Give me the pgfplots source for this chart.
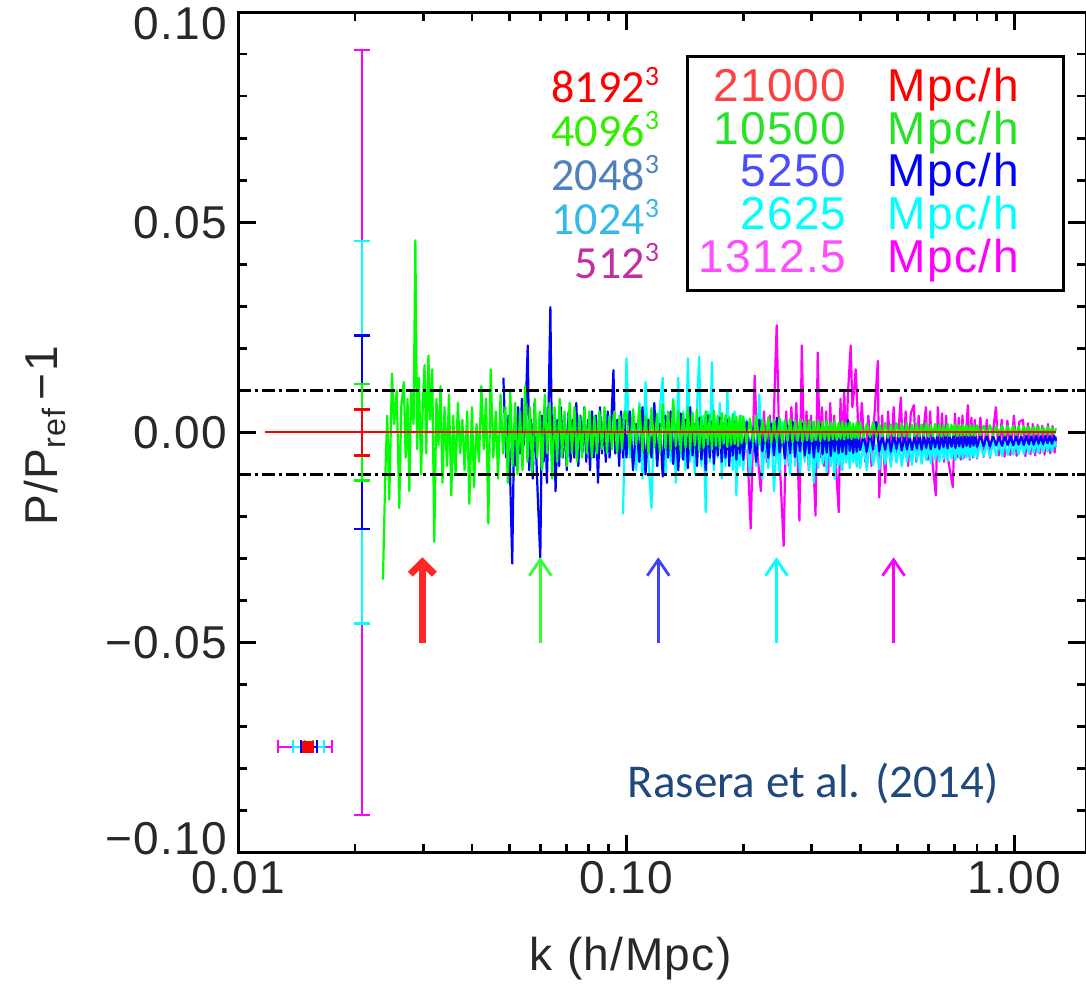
\documentclass[border=0pt]{standalone}
\usepackage{fontspec}
\setmainfont{Liberation Sans}[LetterSpace=3]
\newfontfamily\calibri{Carlito}
\usepackage{pgfplots}
\pgfplotsset{compat=1.18}
\usetikzlibrary{arrows.meta}
\definecolor{idlred}{RGB}{255,0,0}
\definecolor{idlgreen}{RGB}{0,255,0}
\definecolor{idlblue}{RGB}{0,0,255}
\definecolor{idlcyan}{RGB}{0,255,255}
\definecolor{idlmag}{RGB}{255,0,255}
\definecolor{leggreen}{RGB}{40,225,40}
\definecolor{angreen}{RGB}{51,238,0}
\definecolor{anblue}{RGB}{79,129,189}
\definecolor{ancyan}{RGB}{51,187,230}
\definecolor{anmag}{RGB}{192,48,160}
\definecolor{rasera}{RGB}{31,73,125}
\definecolor{labgray}{RGB}{40,40,40}
\newcommand\idlfont{\fontsize{23bp}{27bp}\selectfont}
\newcommand\calfont{\calibri\fontsize{23bp}{21.9bp}\selectfont}
\newcommand\cubed[1]{\raisebox{8.5bp}[0pt][0pt]{\calibri\fontsize{14bp}{14bp}\selectfont #1}}
\pgfplotsset{
  vbar/.style={line width=1.3bp, mark=none},
  vcap/.style={only marks, mark=-, mark size=4bp, mark options={line width=1.3bp}},
  hcap/.style={only marks, mark=|, mark size=3.3bp, mark options={line width=1.3bp}},
}
\begin{document}
\begin{tikzpicture}
\begin{axis}[
  scale only axis, width=423.5bp, height=420bp,
  xmode=log, xmin=0.01, xmax=1.527, ymin=-0.1, ymax=0.1,
  xtick={0.01,0.1,1}, xticklabels={0.01,0.10,1.00},
  minor xtick={0.02,0.03,0.04,0.05,0.06,0.07,0.08,0.09,0.2,0.3,0.4,0.5,0.6,0.7,0.8,0.9},
  ytick={-0.1,-0.05,0,0.05,0.1},
  yticklabels={\raisebox{7bp}[\height][\depth]{−0.10},−0.05,0.00,0.05,\raisebox{-6bp}[\height][\depth]{0.10}},
  minor ytick={-0.09,-0.08,-0.07,-0.06,-0.04,-0.03,-0.02,-0.01,0.01,0.02,0.03,0.04,0.06,0.07,0.08,0.09},
  major tick length=9bp, minor tick length=4.5bp,
  every tick/.style={black, line width=1.4bp},
  axis line style={line width=1.5bp},
  tick label style={font=\idlfont, text=labgray},
  xticklabel style={yshift=-1bp},
  yticklabel style={xshift=-2bp},
  xlabel={k (h/Mpc)},
  xlabel style={font=\idlfont, text=labgray, at={(rel axis cs:0.463,-0.126)}, anchor=center},
  ylabel={P/P\textsubscript{ref}\,−1},
  ylabel style={font=\idlfont, text=labgray, at={(rel axis cs:-0.228,0.496)}, anchor=center, rotate=0},
  every axis plot/.append style={line join=round},
]
% 1312.5 Mpc/h (512^3)
\addplot[idlmag, line width=1.1bp, mark=none] coordinates {
(0.205,-0.0040) (0.209,-0.0229) (0.2125,0.0030) (0.214,0.0135) (0.218,-0.0060) (0.222,-0.0140) (0.226,0.0050) (0.230,-0.0070) (0.234,0.0040) (0.238,-0.0050)
(0.2438,0.0255) (0.248,-0.0060) (0.2541,-0.0270) (0.258,0.0050) (0.262,-0.0080) (0.266,0.0060) (0.270,-0.0050) (0.274,0.0070) (0.279,-0.0210) (0.283,0.0207)
(0.287,-0.0060) (0.291,0.0050) (0.295,-0.0090) (0.299,0.0040) (0.303,-0.0070) (0.307,-0.0198) (0.311,0.0190) (0.315,-0.0060) (0.319,0.0060) (0.323,-0.0080)
(0.327,0.0050) (0.331,-0.0100) (0.335,0.0070) (0.339,-0.0060) (0.343,0.0040) (0.347,-0.0090) (0.3524,-0.0190) (0.356,0.0080) (0.360,-0.0050) (0.364,0.0100)
(0.368,-0.0060) (0.372,0.0090) (0.3783,0.0207) (0.382,0.0060) (0.386,0.0100) (0.3897,0.0150) (0.394,0.0050) (0.398,-0.0040) (0.404,0.0070) (0.412,-0.0070)
(0.420,0.0040) (0.428,-0.0080) (0.436,0.0050) (0.4442,0.0170) (0.448,-0.0155) (0.456,0.0040) (0.464,-0.0120) (0.472,0.0050) (0.480,-0.0060) (0.488,0.0060)
(0.496,-0.0070) (0.5091,0.0083) (0.516,-0.0060) (0.524,0.0050) (0.532,-0.0080) (0.540,0.0045) (0.5501,0.0065) (0.558,-0.0070) (0.566,0.0040) (0.574,-0.0060)
(0.5906,0.0060) (0.598,-0.0065) (0.606,0.0050) (0.614,-0.0070) (0.6266,-0.0150) (0.634,0.0060) (0.642,-0.0060) (0.650,0.0045) (0.658,-0.0070) (0.666,0.0040)
(0.674,-0.0065) (0.6934,-0.0130) (0.702,0.0045) (0.710,-0.0060) (0.718,0.0035) (0.726,-0.0065) (0.734,0.0040) (0.742,-0.0060) (0.7579,0.0065) (0.766,-0.0065)
(0.774,0.0035) (0.782,-0.0060) (0.790,0.0030) (0.800,-0.0062) (0.816,0.0035) (0.832,-0.0058) (0.848,0.0030) (0.864,-0.0060) (0.8948,0.0060) (0.910,-0.0055)
(0.926,0.0030) (0.942,-0.0058) (0.958,0.0028) (0.975,-0.0054) (0.996,0.0040) (1.012,-0.0056) (1.028,0.0025) (1.051,0.0030) (1.066,-0.0057) (1.082,0.0022)
(1.098,-0.0052) (1.114,0.0020) (1.130,-0.0055) (1.146,0.0018) (1.162,-0.0050) (1.178,0.0016) (1.194,-0.0053) (1.219,0.0020) (1.236,-0.0050) (1.252,0.0015)
(1.268,-0.0048) (1.278,-0.0010)
};
% 2625 Mpc/h (1024^3)
\addplot[idlcyan, line width=1.1bp, mark=none] coordinates {
(0.098,-0.0195) (0.100,0.0176) (0.102,-0.0060) (0.104,0.0040) (0.106,-0.0090) (0.108,0.0070) (0.110,-0.0110) (0.112,0.0120) (0.114,-0.0070) (0.116,-0.0180)
(0.118,0.0050) (0.120,-0.0080) (0.122,0.0060) (0.124,0.0130) (0.126,-0.0100) (0.128,0.0040) (0.130,-0.0070) (0.132,0.0080) (0.134,-0.0120) (0.136,0.0130)
(0.138,-0.0060) (0.140,0.0050) (0.142,-0.0090) (0.144,0.0176) (0.146,-0.0070) (0.148,0.0030) (0.150,-0.0100) (0.152,0.0060) (0.154,0.0180) (0.156,-0.0080)
(0.158,0.0040) (0.160,-0.0190) (0.162,0.0050) (0.164,-0.0070) (0.166,0.0167) (0.168,-0.0090) (0.170,0.0030) (0.172,-0.0060) (0.174,0.0070) (0.176,-0.0110)
(0.178,0.0020) (0.180,-0.0080) (0.182,0.0100) (0.184,-0.0070) (0.186,0.0030) (0.188,-0.0090) (0.190,0.0050) (0.192,-0.0150) (0.194,0.0020) (0.196,-0.0080)
(0.198,0.0040) (0.200,-0.0090) (0.204,0.0030) (0.208,-0.0105) (0.212,0.0010) (0.216,-0.0080) (0.220,0.0090) (0.224,-0.0110) (0.228,0.0000) (0.232,-0.0085)
(0.236,0.0020) (0.240,-0.0140) (0.244,-0.0010) (0.248,-0.0095) (0.252,0.0025) (0.256,-0.0075) (0.260,-0.0005) (0.264,-0.0100) (0.268,0.0015) (0.272,-0.0080)
(0.276,-0.0010) (0.280,-0.0095) (0.284,0.0020) (0.288,-0.0070) (0.292,-0.0015) (0.296,-0.0090) (0.300,0.0005) (0.304,-0.0120) (0.308,-0.0020) (0.312,-0.0085)
(0.316,0.0010) (0.320,-0.0075) (0.324,-0.0025) (0.328,-0.0095) (0.332,0.0000) (0.336,-0.0080) (0.340,-0.0020) (0.344,-0.0110) (0.348,-0.0010) (0.352,-0.0078)
(0.356,-0.0030) (0.360,-0.0090) (0.364,-0.0015) (0.368,-0.0072) (0.372,-0.0025) (0.376,-0.0085) (0.380,-0.0020) (0.384,-0.0070) (0.388,-0.0030) (0.392,-0.0082)
(0.396,-0.0022) (0.400,-0.0085) (0.408,-0.0025) (0.416,-0.0090) (0.424,-0.0020) (0.432,-0.0078) (0.440,-0.0030) (0.448,-0.0088) (0.456,-0.0022) (0.464,-0.0075)
(0.472,-0.0028) (0.480,-0.0082) (0.488,-0.0020) (0.496,-0.0072) (0.504,-0.0030) (0.512,-0.0080) (0.520,-0.0025) (0.528,-0.0070) (0.536,-0.0028) (0.544,-0.0078)
(0.552,-0.0022) (0.560,-0.0068) (0.568,-0.0030) (0.576,-0.0075) (0.584,-0.0025) (0.592,-0.0066) (0.600,-0.0028) (0.608,-0.0073) (0.616,-0.0024) (0.624,-0.0065)
(0.632,-0.0029) (0.640,-0.0070) (0.648,-0.0025) (0.656,-0.0063) (0.664,-0.0027) (0.672,-0.0068) (0.680,-0.0024) (0.688,-0.0062) (0.696,-0.0028) (0.704,-0.0066)
(0.712,-0.0025) (0.720,-0.0060) (0.728,-0.0027) (0.736,-0.0064) (0.744,-0.0024) (0.752,-0.0059) (0.760,-0.0026) (0.768,-0.0062) (0.776,-0.0025) (0.784,-0.0058)
(0.792,-0.0026) (0.800,-0.0060) (0.816,-0.0025) (0.832,-0.0057) (0.848,-0.0026) (0.864,-0.0058) (0.880,-0.0024) (0.896,-0.0055) (0.912,-0.0025) (0.928,-0.0056)
(0.944,-0.0023) (0.960,-0.0054) (0.976,-0.0024) (0.992,-0.0053) (1.008,-0.0023) (1.024,-0.0052) (1.040,-0.0024) (1.056,-0.0051) (1.072,-0.0022) (1.088,-0.0050)
(1.104,-0.0023) (1.120,-0.0049) (1.136,-0.0022) (1.152,-0.0048) (1.168,-0.0021) (1.184,-0.0047) (1.200,-0.0022) (1.216,-0.0046) (1.232,-0.0021) (1.248,-0.0045)
(1.264,-0.0020) (1.278,-0.0035)
};
% 5250 Mpc/h (2048^3)
\addplot[idlblue, line width=1.1bp, mark=none] coordinates {
(0.0482,0.0130) (0.0490,-0.0060) (0.0497,0.0040) (0.0503,-0.0145) (0.0508,-0.0312) (0.0514,0.0020) (0.0520,-0.0080) (0.0526,0.0060) (0.0532,-0.0050) (0.0538,0.0080)
(0.0544,-0.0030) (0.0550,0.0050) (0.0557,0.0207) (0.0562,-0.0090) (0.0568,0.0030) (0.0574,-0.0110) (0.0580,0.0070) (0.0586,-0.0060) (0.0592,-0.0167) (0.0600,-0.0298)
(0.0606,0.0040) (0.0612,-0.0070) (0.0618,0.0060) (0.0624,-0.0120) (0.0630,0.0050) (0.0637,0.0298) (0.0643,-0.0050) (0.0650,0.0040) (0.0657,-0.0140) (0.0664,0.0030)
(0.0671,-0.0080) (0.0678,0.0060) (0.0686,-0.0060) (0.0694,0.0040) (0.0702,-0.0090) (0.0710,0.0050) (0.0718,-0.0070) (0.0726,0.0030) (0.0734,-0.0060) (0.0743,0.0070)
(0.0752,-0.0080) (0.0761,0.0040) (0.0770,-0.0050) (0.0779,0.0060) (0.0788,-0.0070) (0.0797,0.0030) (0.0806,-0.0090) (0.0815,0.0050) (0.0825,-0.0060) (0.0835,0.0040)
(0.0845,-0.0120) (0.0855,0.0060) (0.0865,-0.0050) (0.0875,0.0030) (0.0885,-0.0070) (0.0895,0.0050) (0.0905,-0.0060) (0.0916,0.0040) (0.0926,0.0148) (0.0936,-0.0050)
(0.0947,0.0030) (0.0958,-0.0080) (0.0969,0.0050) (0.0980,-0.0060) (0.0990,0.0030)
(0.100,-0.0060) (0.102,0.0050) (0.104,-0.0090) (0.106,0.0020) (0.108,-0.0070) (0.110,0.0060) (0.112,-0.0100) (0.114,0.0030) (0.116,-0.0060) (0.118,0.0070)
(0.120,-0.0080) (0.122,0.0020) (0.124,-0.0105) (0.126,0.0040) (0.128,-0.0060) (0.130,0.0050) (0.132,-0.0075) (0.134,0.0015) (0.136,-0.0090) (0.138,0.0045)
(0.140,-0.0065) (0.142,0.0030) (0.144,-0.0085) (0.146,0.0060) (0.148,-0.0055) (0.150,0.0020) (0.152,-0.0080) (0.154,0.0035) (0.156,-0.0065) (0.158,0.0015)
(0.160,-0.0090) (0.162,0.0040) (0.164,-0.0060) (0.166,0.0025) (0.168,-0.0075) (0.170,0.0010) (0.172,-0.0055) (0.174,0.0035) (0.176,-0.0070) (0.178,0.0020)
(0.180,-0.0060) (0.182,0.0030) (0.184,-0.0080) (0.186,0.0010) (0.188,-0.0055) (0.190,0.0025) (0.192,-0.0065) (0.194,0.0015) (0.196,-0.0050) (0.198,0.0020)
(0.200,-0.0065) (0.204,0.0025) (0.208,-0.0050) (0.212,0.0010) (0.216,-0.0070) (0.220,0.0030) (0.224,-0.0045) (0.228,0.0005) (0.232,-0.0060) (0.236,0.0020)
(0.240,-0.0055) (0.244,0.0035) (0.248,-0.0048) (0.252,0.0000) (0.256,-0.0062) (0.260,0.0015) (0.264,-0.0050) (0.268,0.0025) (0.272,-0.0058) (0.276,0.0005)
(0.280,-0.0045) (0.284,0.0020) (0.288,-0.0055) (0.292,-0.0005) (0.296,-0.0050) (0.300,0.0012) (0.304,-0.0060) (0.308,0.0000) (0.312,-0.0046) (0.316,0.0018)
(0.320,-0.0052) (0.324,-0.0003) (0.328,-0.0048) (0.332,0.0010) (0.336,-0.0056) (0.340,-0.0002) (0.344,-0.0045) (0.348,0.0008) (0.352,-0.0050) (0.356,-0.0004)
(0.360,-0.0047) (0.364,0.0012) (0.368,-0.0052) (0.372,0.0030) (0.376,-0.0044) (0.380,-0.0006) (0.384,-0.0049) (0.388,0.0004) (0.392,-0.0046) (0.396,-0.0008)
(0.400,-0.0042) (0.408,-0.0005) (0.416,-0.0046) (0.424,0.0000) (0.432,-0.0040) (0.440,0.0025) (0.448,-0.0044) (0.456,-0.0008) (0.464,-0.0041) (0.472,-0.0004)
(0.480,-0.0045) (0.488,-0.0007) (0.496,-0.0039) (0.504,-0.0005) (0.512,-0.0043) (0.520,-0.0009) (0.528,-0.0040) (0.536,-0.0006) (0.544,-0.0042) (0.552,-0.0008)
(0.560,-0.0038) (0.568,-0.0005) (0.576,-0.0041) (0.584,-0.0009) (0.592,-0.0037) (0.600,-0.0006) (0.608,-0.0040) (0.616,-0.0008) (0.624,-0.0036) (0.632,-0.0007)
(0.640,-0.0039) (0.648,-0.0009) (0.656,-0.0035) (0.664,-0.0006) (0.672,-0.0038) (0.680,-0.0008) (0.688,-0.0034) (0.696,-0.0007) (0.704,-0.0037) (0.712,-0.0009)
(0.720,-0.0033) (0.728,-0.0007) (0.736,-0.0036) (0.744,-0.0008) (0.752,-0.0032) (0.760,-0.0009) (0.768,-0.0035) (0.776,-0.0008) (0.784,-0.0031) (0.792,-0.0009)
(0.800,-0.0034) (0.816,-0.0008) (0.832,-0.0032) (0.848,-0.0009) (0.864,-0.0033) (0.880,-0.0008) (0.896,-0.0031) (0.912,-0.0009) (0.928,-0.0032) (0.944,-0.0008)
(0.960,-0.0030) (0.976,-0.0009) (0.992,-0.0031) (1.008,-0.0008) (1.024,-0.0029) (1.040,-0.0009) (1.056,-0.0030) (1.072,-0.0008) (1.088,-0.0028) (1.104,-0.0009)
(1.120,-0.0029) (1.136,-0.0008) (1.152,-0.0027) (1.168,-0.0009) (1.184,-0.0028) (1.200,-0.0008) (1.216,-0.0026) (1.232,-0.0009) (1.248,-0.0027) (1.264,-0.0008)
(1.278,-0.0020)
};
% 10500 Mpc/h (4096^3)
\addplot[idlgreen, line width=1.1bp, mark=none] coordinates {
(0.0236,-0.0350) (0.0239,-0.0120) (0.0242,0.0040) (0.0245,-0.0160) (0.0249,0.0140) (0.0252,0.0020) (0.0256,0.0100) (0.0260,-0.0180) (0.0263,0.0060) (0.0267,0.0120)
(0.0270,-0.0060) (0.0273,0.0080) (0.0276,-0.0140) (0.0279,0.0100) (0.0283,0.0020) (0.0286,0.0457) (0.0289,-0.0040) (0.0292,0.0130) (0.0296,-0.0100) (0.0299,0.0070)
(0.0302,0.0160) (0.0305,-0.0050) (0.0309,0.0183) (0.0312,0.0030) (0.0316,0.0150) (0.0320,-0.0260) (0.0324,0.0080) (0.0328,-0.0030) (0.0332,0.0110) (0.0336,-0.0120)
(0.0340,0.0060) (0.0345,-0.0080) (0.0349,0.0090) (0.0354,-0.0150) (0.0358,0.0040) (0.0363,-0.0100) (0.0368,0.0070) (0.0373,-0.0050) (0.0378,0.0030) (0.0383,-0.0090)
(0.0389,0.0050) (0.0394,-0.0170) (0.0400,0.0060) (0.0405,-0.0130) (0.0411,0.0020) (0.0417,-0.0070) (0.0423,0.0110) (0.0429,-0.0040) (0.0435,0.0080) (0.0441,-0.0217)
(0.0447,0.0150) (0.0454,-0.0060) (0.0461,0.0050) (0.0467,-0.0110) (0.0474,0.0090) (0.0481,-0.0050) (0.0488,0.0060) (0.0495,-0.0120) (0.0502,0.0100) (0.0509,-0.0080)
(0.0517,0.0070) (0.0524,-0.0100) (0.0532,0.0050) (0.0540,-0.0090) (0.0548,0.0110) (0.0556,-0.0070) (0.0564,0.0060) (0.0572,-0.0100) (0.0581,0.0080) (0.0589,-0.0060)
(0.0598,0.0050) (0.0607,-0.0090) (0.0616,0.0090) (0.0625,-0.0050) (0.0634,0.0070) (0.0644,-0.0110) (0.0653,0.0060) (0.0663,-0.0070) (0.0673,0.0080) (0.0683,-0.0060)
(0.0693,0.0050) (0.0703,-0.0080) (0.0714,0.0070) (0.0724,-0.0050) (0.0735,0.0060) (0.0746,-0.0070) (0.0757,0.0040) (0.0768,-0.0060) (0.0780,0.0060) (0.0791,-0.0050)
(0.0803,0.0050) (0.0815,-0.0060) (0.0827,0.0040) (0.0840,-0.0050) (0.0852,0.0050) (0.0865,-0.0040) (0.0878,0.0060) (0.0891,-0.0050) (0.0904,0.0040) (0.0918,-0.0040)
(0.0932,0.0050) (0.0946,-0.0050) (0.0960,0.0040) (0.0974,-0.0040) (0.0989,0.0050)
(0.100,0.0048) (0.102,-0.0041) (0.104,0.0055) (0.106,-0.0030) (0.108,0.0062) (0.110,-0.0045) (0.112,0.0040) (0.114,-0.0052) (0.116,0.0058) (0.118,-0.0035)
(0.120,0.0045) (0.122,-0.0048) (0.124,0.0068) (0.126,-0.0038) (0.128,0.0050) (0.130,-0.0042) (0.132,0.0076) (0.134,-0.0033) (0.136,0.0052) (0.138,-0.0046)
(0.140,0.0044) (0.142,-0.0036) (0.144,0.0060) (0.146,-0.0040) (0.148,0.0047) (0.150,-0.0031) (0.152,0.0055) (0.154,-0.0044) (0.156,0.0038) (0.158,-0.0037)
(0.160,0.0050) (0.162,-0.0029) (0.164,0.0043) (0.166,-0.0041) (0.168,0.0052) (0.170,-0.0032) (0.172,0.0039) (0.174,-0.0038) (0.176,0.0046) (0.178,-0.0027)
(0.180,0.0041) (0.182,-0.0035) (0.184,0.0036) (0.186,-0.0030) (0.188,0.0044) (0.190,-0.0028) (0.192,0.0037) (0.194,-0.0033) (0.196,0.0040) (0.198,-0.0026)
(0.200,0.0038) (0.204,-0.0027) (0.208,0.0033) (0.212,-0.0024) (0.216,0.0040) (0.220,-0.0029) (0.224,0.0031) (0.228,-0.0022) (0.232,0.0036) (0.236,-0.0026)
(0.240,0.0030) (0.244,-0.0023) (0.248,0.0034) (0.252,-0.0025) (0.256,0.0029) (0.260,-0.0021) (0.264,0.0033) (0.268,-0.0024) (0.272,0.0028) (0.276,-0.0020)
(0.280,0.0032) (0.284,-0.0023) (0.288,0.0027) (0.292,-0.0019) (0.296,0.0030) (0.300,-0.0022) (0.304,0.0026) (0.308,-0.0018) (0.312,0.0029) (0.316,-0.0021)
(0.320,0.0025) (0.324,-0.0017) (0.328,0.0028) (0.332,-0.0020) (0.336,0.0024) (0.340,-0.0016) (0.344,0.0027) (0.348,-0.0018) (0.352,0.0023) (0.356,-0.0015)
(0.360,0.0026) (0.364,-0.0017) (0.368,0.0022) (0.372,-0.0014) (0.376,0.0025) (0.380,-0.0016) (0.384,0.0021) (0.388,-0.0013) (0.392,0.0024) (0.396,-0.0015)
(0.400,0.0024) (0.408,-0.0013) (0.416,0.0021) (0.424,-0.0011) (0.432,0.0025) (0.440,-0.0012) (0.448,0.0020) (0.456,-0.0010) (0.464,0.0023) (0.472,-0.0013)
(0.480,0.0019) (0.488,-0.0009) (0.496,0.0022) (0.504,-0.0011) (0.512,0.0020) (0.520,-0.0010) (0.528,0.0023) (0.536,-0.0012) (0.544,0.0018) (0.552,-0.0009)
(0.560,0.0021) (0.568,-0.0010) (0.576,0.0019) (0.584,-0.0008) (0.592,0.0022) (0.600,-0.0011) (0.608,0.0018) (0.616,-0.0009) (0.624,0.0020) (0.632,-0.0008)
(0.640,0.0019) (0.648,-0.0010) (0.656,0.0017) (0.664,-0.0008) (0.672,0.0020) (0.680,-0.0009) (0.688,0.0018) (0.696,-0.0007) (0.704,0.0019) (0.712,-0.0009)
(0.720,0.0017) (0.728,-0.0008) (0.736,0.0018) (0.744,-0.0007) (0.752,0.0016) (0.760,-0.0008) (0.768,0.0018) (0.776,-0.0007) (0.784,0.0016) (0.792,-0.0008)
(0.800,0.0017) (0.816,-0.0007) (0.832,0.0016) (0.848,-0.0006) (0.864,0.0017) (0.880,-0.0007) (0.896,0.0015) (0.912,-0.0006) (0.928,0.0016) (0.944,-0.0007)
(0.960,0.0015) (0.976,-0.0005) (0.992,0.0016) (1.008,-0.0006) (1.024,0.0014) (1.040,-0.0006) (1.056,0.0015) (1.072,-0.0005) (1.088,0.0014) (1.104,-0.0006)
(1.120,0.0013) (1.136,-0.0005) (1.152,0.0014) (1.168,-0.0005) (1.184,0.0013) (1.200,-0.0004) (1.216,0.0013) (1.232,-0.0005) (1.248,0.0012) (1.264,-0.0004)
(1.278,0.0010)
};
% +-1 per cent lines
\addplot[black, line width=1.3bp, dash pattern=on 6.5bp off 2bp on 1.5bp off 2bp] coordinates {(0.01,0.01) (1.527,0.01)};
\addplot[black, line width=1.3bp, dash pattern=on 6.5bp off 2bp on 1.5bp off 2bp] coordinates {(0.01,-0.01) (1.527,-0.01)};
% 21000 Mpc/h reference
\addplot[idlred, line width=1.1bp, mark=none] coordinates {(0.01172,0) (1.278,0)};
% vertical error bars (cosmic variance per box size)
\addplot[idlmag, vbar] coordinates {(0.02085,-0.091) (0.02085,0.091)};
\addplot[idlmag, vcap] coordinates {(0.02085,-0.091) (0.02085,0.091)};
\addplot[idlcyan, vbar] coordinates {(0.02085,-0.0455) (0.02085,0.0455)};
\addplot[idlcyan, vcap] coordinates {(0.02085,-0.0455) (0.02085,0.0455)};
\addplot[idlblue, vbar] coordinates {(0.02085,-0.023) (0.02085,0.023)};
\addplot[idlblue, vcap] coordinates {(0.02085,-0.023) (0.02085,0.023)};
\addplot[idlgreen, vbar] coordinates {(0.02085,-0.0115) (0.02085,0.0115)};
\addplot[idlgreen, vcap] coordinates {(0.02085,-0.0115) (0.02085,0.0115)};
\addplot[idlred, vbar] coordinates {(0.02085,-0.0055) (0.02085,0.0055)};
\addplot[idlred, vcap] coordinates {(0.02085,-0.0055) (0.02085,0.0055)};
% horizontal error bars (k bin widths)
\addplot[idlmag, vbar] coordinates {(0.01266,-0.0748) (0.01745,-0.0748)};
\addplot[idlmag, hcap] coordinates {(0.01266,-0.0748) (0.01745,-0.0748)};
\addplot[idlcyan, vbar] coordinates {(0.01384,-0.0748) (0.01664,-0.0748)};
\addplot[idlcyan, hcap] coordinates {(0.01384,-0.0748) (0.01664,-0.0748)};
\addplot[idlblue, vbar] coordinates {(0.01451,-0.0748) (0.01596,-0.0748)};
\addplot[idlblue, hcap] coordinates {(0.01451,-0.0748) (0.01596,-0.0748)};
\addplot[idlgreen, vbar] coordinates {(0.01487,-0.0748) (0.01559,-0.0748)};
\addplot[idlgreen, hcap] coordinates {(0.01487,-0.0748) (0.01559,-0.0748)};
\addplot[idlred, only marks, mark=square*, mark size=2.8bp] coordinates {(0.01513,-0.0748)};
% arrows
\addplot[idlred!85!white, line width=3.5bp, -{Straight Barb[length=6bp,width=12bp]}] coordinates {(0.0298,-0.0500) (0.0298,-0.0297)};
\addplot[idlgreen!80!white, line width=1.4bp, -{Straight Barb[length=8bp,width=11bp]}] coordinates {(0.0600,-0.0500) (0.0600,-0.0297)};
\addplot[idlblue!75!white, line width=1.4bp, -{Straight Barb[length=8bp,width=11bp]}] coordinates {(0.1208,-0.0500) (0.1208,-0.0297)};
\addplot[idlcyan, line width=1.4bp, -{Straight Barb[length=8bp,width=11bp]}] coordinates {(0.2436,-0.0500) (0.2436,-0.0297)};
\addplot[idlmag, line width=1.4bp, -{Straight Barb[length=8bp,width=11bp]}] coordinates {(0.4877,-0.0500) (0.4877,-0.0297)};
% resolution labels (one block)
\node[anchor=base east, inner sep=0pt, font=\calfont] at (rel axis cs:0.4970,0.8929) {%
  \begin{tabular}[t]{@{}r@{}}
  \textcolor{idlred}{8192\cubed{3}}\\
  \textcolor{angreen}{4096\cubed{3}}\\
  \textcolor{anblue}{2048\cubed{3}}\\
  \textcolor{ancyan}{1024\cubed{3}}\\
  \textcolor{anmag}{512\cubed{3}}
  \end{tabular}};
% legend
\draw[line width=1.5bp] (rel axis cs:0.530,0.669) rectangle (rel axis cs:0.973,0.9476);
\node[anchor=base east, text=idlred!75!white, font=\idlfont] at (rel axis cs:0.726,0.894) {21000};
\node[anchor=base west, text=idlred, font=\idlfont] at (rel axis cs:0.758,0.894) {Mpc/h};
\node[anchor=base east, text=leggreen, font=\idlfont] at (rel axis cs:0.726,0.8429) {10500};
\node[anchor=base west, text=leggreen, font=\idlfont] at (rel axis cs:0.758,0.8429) {Mpc/h};
\node[anchor=base east, text=idlblue!70!white, font=\idlfont] at (rel axis cs:0.726,0.7929) {5250};
\node[anchor=base west, text=idlblue, font=\idlfont] at (rel axis cs:0.758,0.7929) {Mpc/h};
\node[anchor=base east, text=idlcyan, font=\idlfont] at (rel axis cs:0.726,0.7417) {2625};
\node[anchor=base west, text=idlcyan, font=\idlfont] at (rel axis cs:0.758,0.7417) {Mpc/h};
\node[anchor=base east, text=idlmag!70!white, font=\idlfont] at (rel axis cs:0.726,0.6905) {1312.5};
\node[anchor=base west, text=idlmag, font=\idlfont] at (rel axis cs:0.758,0.6905) {Mpc/h};
% citation
\node[anchor=base west, text=rasera, font=\calibri\fontsize{23.5bp}{28bp}\selectfont] at (rel axis cs:0.451,0.0655) {Rasera et al. (2014)};
\end{axis}
\pgfresetboundingbox
\path[use as bounding box] ([xshift=-119bp,yshift=-66bp]current axis.south west) rectangle ([yshift=6bp]current axis.north east);
\end{tikzpicture}
\end{document}
